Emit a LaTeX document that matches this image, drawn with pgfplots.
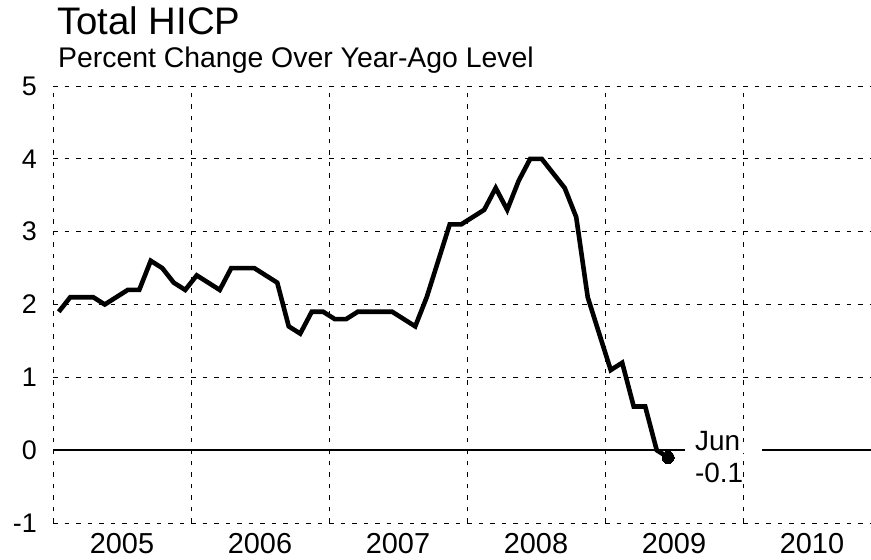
\documentclass[border=0pt]{standalone}
\usepackage{fontspec}
\setmainfont{Liberation Sans}
\usepackage{pgfplots}
\pgfplotsset{compat=1.18}

% euro area HICP, percent change over year-ago level, monthly (mid-month positions)
\pgfplotstableread{
x        y
2005.0417 1.9
2005.1250 2.1
2005.2083 2.1
2005.2917 2.1
2005.3750 2.0
2005.4583 2.1
2005.5417 2.2
2005.6250 2.2
2005.7083 2.6
2005.7917 2.5
2005.8750 2.3
2005.9583 2.2
2006.0417 2.4
2006.1250 2.3
2006.2083 2.2
2006.2917 2.5
2006.3750 2.5
2006.4583 2.5
2006.5417 2.4
2006.6250 2.3
2006.7083 1.7
2006.7917 1.6
2006.8750 1.9
2006.9583 1.9
2007.0417 1.8
2007.1250 1.8
2007.2083 1.9
2007.2917 1.9
2007.3750 1.9
2007.4583 1.9
2007.5417 1.8
2007.6250 1.7
2007.7083 2.1
2007.7917 2.6
2007.8750 3.1
2007.9583 3.1
2008.0417 3.2
2008.1250 3.3
2008.2083 3.6
2008.2917 3.3
2008.3750 3.7
2008.4583 4.0
2008.5417 4.0
2008.6250 3.8
2008.7083 3.6
2008.7917 3.2
2008.8750 2.1
2008.9583 1.6
2009.0417 1.1
2009.1250 1.2
2009.2083 0.6
2009.2917 0.6
2009.3750 0.0
2009.4583 -0.1
}\hicp

\begin{document}
\begin{tikzpicture}
\begin{axis}[
  scale only axis,
  width=818bp, height=437bp,
  xmin=2005, xmax=2010.928,
  ymin=-1, ymax=5,
  axis line style={draw=none},
  major tick length=0pt,
  xtick={2005.5,2006.5,2007.5,2008.5,2009.5,2010.5},
  xticklabels={2005,2006,2007,2008,2009,2010},
  extra x ticks={2005,2006,2007,2008,2009,2010},
  extra x tick labels={},
  extra x tick style={xmajorgrids=true},
  ytick={-1,0,1,2,3,4,5},
  yticklabels={-1,0,1,2,3,4,5},
  ymajorgrids=true,
  grid style={black, line width=0.8bp, dash pattern=on 4.5bp off 7bp},
  xticklabel style={font=\fontsize{29}{32}\selectfont, anchor=north, inner sep=0pt, yshift=-10bp},
  yticklabel style={font=\fontsize{27}{30}\selectfont, anchor=east, inner sep=0pt, xshift=-16bp},
]
% white gap behind the annotation (hides the grid line at 0)
\fill[white] (axis cs:2009.58,-0.04) rectangle (axis cs:2010.14,0.04);
% zero line, broken behind the annotation
\addplot[black, line width=2.6bp] coordinates {(2005,0) (2009.58,0)};
\addplot[black, line width=2.6bp] coordinates {(2010.14,0) (2011,0)};
\addplot[black, line width=4.6bp, line join=miter,
  mark=*, mark size=6bp, mark indices={54},
  mark options={line width=0pt, fill=black}] table[x=x, y=y] {\hicp};
\node[anchor=base west, inner sep=0pt, font=\fontsize{28}{32}\selectfont]
  at (axis cs:2009.652,0) {Jun};
\node[anchor=base west, inner sep=0pt, font=\fontsize{28}{32}\selectfont]
  at (axis cs:2009.652,-0.44) {-0.1};
\end{axis}
\node[anchor=base west, inner sep=0pt, font=\fontsize{38.5}{42}\selectfont]
  at (4bp,488bp) {Total HICP};
\node[anchor=base west, inner sep=0pt, font=\fontsize{28.5}{32}\selectfont]
  at (5bp,455bp) {Percent Change Over Year-Ago Level};
\pgfresetboundingbox
\path[use as bounding box] (-53bp,-37bp) rectangle (818bp,523bp);
\end{tikzpicture}
\end{document}
